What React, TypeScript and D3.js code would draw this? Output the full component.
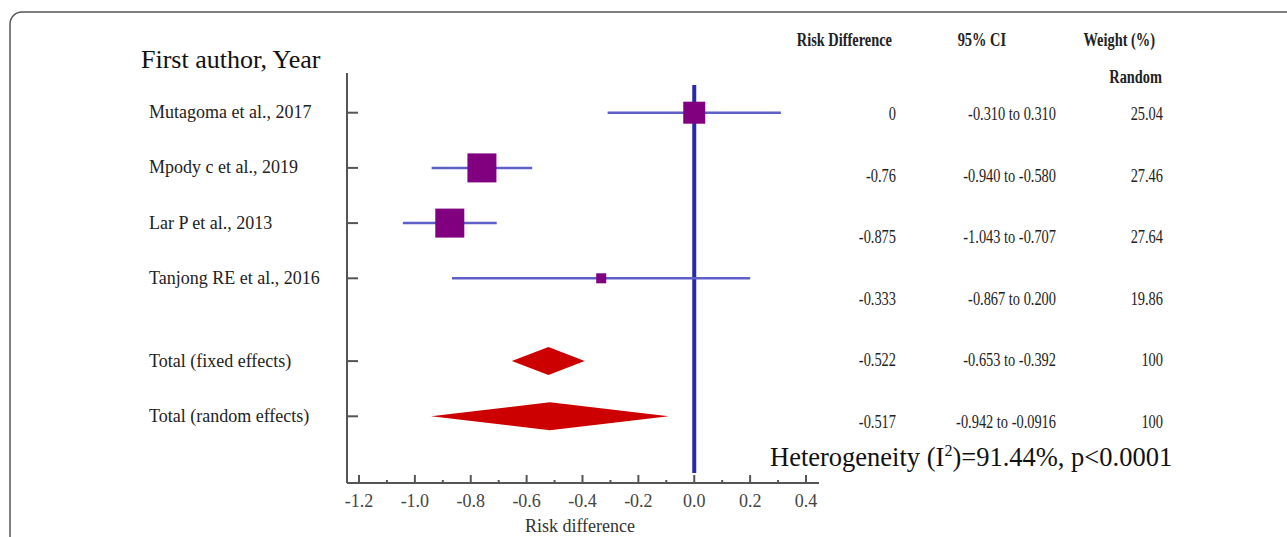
import React from "react";
import * as d3 from "d3";

const studies = ["Mutagoma et al., 2017", "Mpody c et al., 2019", "Lar P et al., 2013", "Tanjong RE et al., 2016"];
const estimates = [0, -0.76, -0.875, -0.333];
const ciLow = [-0.31, -0.94, -1.043, -0.867];
const ciHigh = [0.31, -0.58, -0.707, 0.2];
const weights = ["25.04", "27.46", "27.64", "19.86"];
const rdLabels = ["0", "-0.76", "-0.875", "-0.333"];
const ciLabels = ["-0.310 to 0.310", "-0.940 to -0.580", "-1.043 to -0.707", "-0.867 to 0.200"];

const pooledNames = ["Total (fixed effects)", "Total (random effects)"];
const pooledEst = [-0.522, -0.517];
const pooledLow = [-0.653, -0.942];
const pooledHigh = [-0.392, -0.0916];
const pooledRd = ["-0.522", "-0.517"];
const pooledCi = ["-0.653 to -0.392", "-0.942 to -0.0916"];
const pooledW = ["100", "100"];

const majorTicks = [-1.2, -1.0, -0.8, -0.6, -0.4, -0.2, 0.0, 0.2, 0.4];
const minorTicks = [-1.1, -0.9, -0.7, -0.5, -0.3, -0.1, 0.1, 0.3];

const SERIF = "'Liberation Serif', 'Times New Roman', serif";

export default function App() {
  const x = d3.scaleLinear().domain([-1.2, 0.4]).range([359, 806]);
  // plot rows (studies 0..3, pooled at 4.5, 5.5)
  const y = d3.scaleLinear().domain([0, 1]).range([112.7, 167.9]);
  const rowIdx = [0, 1, 2, 3, 4.5, 5.5];
  // table rows
  const ty = d3.scaleLinear().domain([0, 1]).range([120, 181.6]);

  const markerSide = [22, 29, 29, 10];
  const axisLeft = 347;
  const axisRight = 819;
  const axisY = 483;
  const axisTop = 73;

  const ciColor = "#5f5fc8";
  const refColor = "#2a2aa6";
  const sqColor = "#800080";
  const dmColor = "#cc0000";

  const rdX = 896;
  const ciX = 1056;
  const wX = 1163;
  const sx = 0.8;

  const tableText = (txt: string, xx: number, yy: number, bold = false, key?: string) => (
    <text
      key={key}
      transform={`translate(${xx},${yy}) scale(${sx},1)`}
      textAnchor="end"
      fontFamily={SERIF}
      fontSize={18}
      fontWeight={bold ? "bold" : "normal"}
      fill="#222"
    >
      {txt}
    </text>
  );

  const allRd = [...rdLabels, ...pooledRd];
  const allCi = [...ciLabels, ...pooledCi];
  const allW = [...weights, ...pooledW];

  return (
    <svg
      width={1287}
      height={537}
      style={{ position: "absolute", left: 0, top: 0, background: "#fff" }}
    >
      <rect x={10} y={12} width={1320} height={600} rx={12} fill="#fff" stroke="#555" strokeWidth={1.5} />

      {/* header */}
      <text x={141} y={68} fontFamily={SERIF} fontSize={26} fill="#111">First author, Year</text>

      {/* row labels */}
      {[...studies, ...pooledNames].map((s, i) => (
        <text key={s} x={149} y={y(rowIdx[i]) + 5.5} fontFamily={SERIF} fontSize={18} fill="#222">
          {s}
        </text>
      ))}

      {/* axes */}
      <line x1={axisLeft} x2={axisLeft} y1={axisTop} y2={axisY} stroke="#555" strokeWidth={2} />
      {rowIdx.map((r, i) => (
        <line key={"lt" + i} x1={axisLeft} x2={axisLeft + 11} y1={y(r)} y2={y(r)} stroke="#555" strokeWidth={2} />
      ))}
      <line x1={axisLeft} x2={axisRight} y1={axisY} y2={axisY} stroke="#555" strokeWidth={2} />
      {majorTicks.map((t) => (
        <g key={"mt" + t}>
          <line x1={x(t)} x2={x(t)} y1={axisY} y2={axisY - 8} stroke="#555" strokeWidth={2} />
          <text x={x(t)} y={507} textAnchor="middle" fontFamily={SERIF} fontSize={18} fill="#444">
            {d3.format(".1f")(t).replace("−", "-")}
          </text>
        </g>
      ))}
      {minorTicks.map((t) => (
        <line key={"mn" + t} x1={x(t)} x2={x(t)} y1={axisY} y2={axisY - 3} stroke="#555" strokeWidth={2} />
      ))}
      <text x={580} y={532} textAnchor="middle" fontFamily={SERIF} fontSize={18} fill="#333">Risk difference</text>

      {/* reference line */}
      <line x1={x(0)} x2={x(0)} y1={85} y2={473} stroke={refColor} strokeWidth={4} />

      {/* study CIs and squares */}
      {studies.map((s, i) => {
        const cy = y(rowIdx[i]);
        const side = markerSide[i];
        return (
          <g key={"st" + i}>
            <line x1={x(ciLow[i])} x2={x(ciHigh[i])} y1={cy} y2={cy} stroke={ciColor} strokeWidth={2.5} />
            <rect x={x(estimates[i]) - side / 2} y={cy - side / 2} width={side} height={side} fill={sqColor} />
          </g>
        );
      })}

      {/* pooled diamonds */}
      {pooledNames.map((p, i) => {
        const cy = y(rowIdx[4 + i]);
        const h = 14;
        const pts = [
          [x(pooledLow[i]), cy],
          [x(pooledEst[i]), cy - h],
          [x(pooledHigh[i]), cy],
          [x(pooledEst[i]), cy + h],
        ];
        return <polygon key={"dm" + i} points={pts.map((q) => q.join(",")).join(" ")} fill={dmColor} />;
      })}

      {/* table header */}
      {tableText("Risk Difference", 892, 46, true, "h1")}
      {tableText("95% CI", 1006, 46, true, "h2")}
      {tableText("Weight (%)", 1155, 46, true, "h3")}
      {tableText("Random", 1162, 83, true, "h4")}

      {/* table values */}
      {allRd.map((v, i) => tableText(v, rdX, ty(i), false, "rd" + i))}
      {allCi.map((v, i) => tableText(v, ciX, ty(i), false, "ci" + i))}
      {allW.map((v, i) => tableText(v, wX, ty(i), false, "w" + i))}

      {/* heterogeneity */}
      <text x={770} y={466} fontFamily={SERIF} fontSize={26.5} fill="#111">
        Heterogeneity (I<tspan dy={-10} fontSize={16}>2</tspan>
        <tspan dy={10}>)=91.44%, p&lt;0.0001</tspan>
      </text>
    </svg>
  );
}
